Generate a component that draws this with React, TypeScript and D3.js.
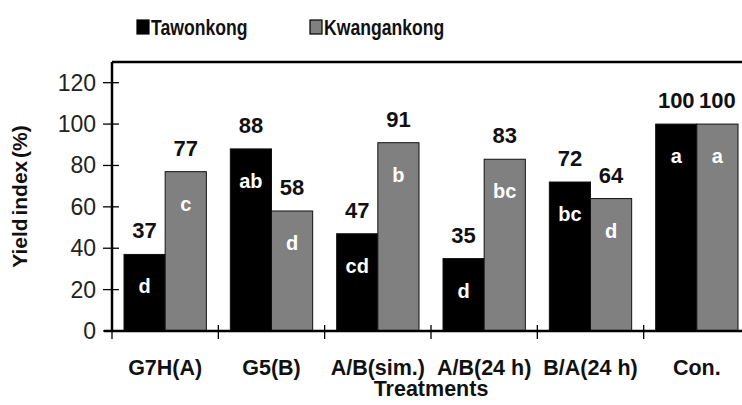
// @ts-nocheck
import React, { useEffect, useRef } from 'react';
import * as d3 from 'd3';

const categories = ['G7H(A)', 'G5(B)', 'A/B(sim.)', 'A/B(24 h)', 'B/A(24 h)', 'Con.'];
const seriesNames = ['Tawonkong', 'Kwangankong'];
const tawonkong = [37, 88, 47, 35, 72, 100];
const kwangankong = [77, 58, 91, 83, 64, 100];
const tawonkongLetters = ['d', 'ab', 'cd', 'd', 'bc', 'a'];
const kwangankongLetters = ['c', 'd', 'b', 'bc', 'd', 'a'];
const yTicks = [0, 20, 40, 60, 80, 100, 120];
const colors = ['#000000', '#808080'];

const App = () => {
  const svgRef = useRef(null);

  useEffect(() => {
    const width = 742;
    const height = 405;
    const left = 112;
    const right = 750;
    const top = 62;
    const bottom = 331;
    const font = 'Arial, "Liberation Sans", sans-serif';

    const svg = d3.select(svgRef.current)
      .attr('width', width)
      .attr('height', height)
      .style('font-family', font);
    svg.selectAll('*').remove();

    svg.append('rect').attr('width', width).attr('height', height).attr('fill', '#fff');

    const x0 = d3.scaleBand().domain(categories).range([left, right]).padding(0);
    const x1 = d3.scaleBand().domain(seriesNames).range([12, x0.bandwidth() - 12]).padding(0);
    const y = d3.scaleLinear().domain([0, 130]).range([bottom, top]);

    const values = [tawonkong, kwangankong];
    const letters = [tawonkongLetters, kwangankongLetters];

    const rows = [];
    categories.forEach((c, i) => {
      seriesNames.forEach((s, j) => {
        rows.push({ c, s, j, v: values[j][i], l: letters[j][i] });
      });
    });

    const g = svg.append('g');

    g.selectAll('rect.bar')
      .data(rows)
      .join('rect')
      .attr('class', 'bar')
      .attr('x', d => x0(d.c) + x1(d.s))
      .attr('y', d => y(d.v))
      .attr('width', x1.bandwidth())
      .attr('height', d => y(0) - y(d.v))
      .attr('fill', d => colors[d.j])
      .attr('stroke', '#111')
      .attr('stroke-width', 1);

    // value labels above bars
    g.selectAll('text.val')
      .data(rows)
      .join('text')
      .attr('class', 'val')
      .attr('x', d => x0(d.c) + x1(d.s) + x1.bandwidth() / 2)
      .attr('y', d => y(d.v) - 16)
      .attr('text-anchor', 'middle')
      .attr('font-size', 22)
      .attr('font-weight', 'bold')
      .attr('fill', '#111')
      .text(d => d.v);

    // significance letters inside bars
    g.selectAll('text.let')
      .data(rows)
      .join('text')
      .attr('class', 'let')
      .attr('x', d => x0(d.c) + x1(d.s) + x1.bandwidth() / 2)
      .attr('y', d => y(d.v) + 32)
      .attr('text-anchor', 'middle')
      .attr('dominant-baseline', 'central')
      .attr('font-size', 20)
      .attr('font-weight', 'bold')
      .attr('fill', '#fff')
      .text(d => d.l);

    // frame
    const frame = svg.append('g').attr('stroke', '#000').attr('fill', 'none');
    frame.append('line').attr('x1', left).attr('x2', right).attr('y1', top).attr('y2', top).attr('stroke-width', 2.5);
    frame.append('line').attr('x1', left).attr('x2', left).attr('y1', top).attr('y2', bottom).attr('stroke-width', 2.5);
    frame.append('line').attr('x1', left - 8).attr('x2', right).attr('y1', bottom).attr('y2', bottom).attr('stroke-width', 2.5);
    frame.append('line').attr('x1', right).attr('x2', right).attr('y1', top).attr('y2', bottom).attr('stroke-width', 2.5);

    // y ticks
    const yt = svg.append('g');
    yt.selectAll('line')
      .data(yTicks)
      .join('line')
      .attr('x1', left - 9)
      .attr('x2', left + 7)
      .attr('y1', d => y(d))
      .attr('y2', d => y(d))
      .attr('stroke', '#000')
      .attr('stroke-width', 1.3);
    yt.selectAll('text')
      .data(yTicks)
      .join('text')
      .attr('x', left - 16)
      .attr('y', d => y(d))
      .attr('text-anchor', 'end')
      .attr('dominant-baseline', 'central')
      .attr('font-size', 23)
      .attr('fill', '#222')
      .text(d => d);

    // x ticks at category boundaries
    const bounds = categories.map(c => x0(c)).concat([right]);
    svg.append('g').selectAll('line')
      .data(bounds)
      .join('line')
      .attr('x1', d => d)
      .attr('x2', d => d)
      .attr('y1', bottom - 6)
      .attr('y2', bottom + 8)
      .attr('stroke', '#000')
      .attr('stroke-width', 1.3);

    svg.append('g').selectAll('text')
      .data(categories)
      .join('text')
      .attr('x', d => x0(d) + x0.bandwidth() / 2)
      .attr('y', 375)
      .attr('text-anchor', 'middle')
      .attr('font-size', 21.5)
      .attr('font-weight', 'bold')
      .attr('fill', '#111')
      .text(d => d);

    svg.append('text')
      .attr('x', (left + right) / 2)
      .attr('y', 396)
      .attr('text-anchor', 'middle')
      .attr('font-size', 21.5)
      .attr('font-weight', 'bold')
      .attr('fill', '#111')
      .text('Treatments');

    svg.append('text')
      .attr('transform', `translate(27,${(top + bottom) / 2}) rotate(-90)`)
      .attr('text-anchor', 'middle')
      .attr('font-size', 21)
      .attr('font-weight', 'bold')
      .attr('word-spacing', -3)
      .attr('fill', '#111')
      .text('Yield index (%)');

    // legend
    const legendX = [137, 310];
    const lg = svg.append('g');
    seriesNames.forEach((s, i) => {
      lg.append('rect')
        .attr('x', legendX[i])
        .attr('y', 20)
        .attr('width', 12)
        .attr('height', 14)
        .attr('fill', colors[i])
        .attr('stroke', '#000')
        .attr('stroke-width', 1.2);
      lg.append('text')
        .attr('transform', `translate(${legendX[i] + 14},35) scale(0.8,1)`)
        .attr('font-size', 22)
        .attr('font-weight', 'bold')
        .attr('fill', '#111')
        .text(s);
    });
  }, []);

  return (
    <div style={{ position: 'absolute', left: 0, top: 0 }}>
      <svg ref={svgRef} style={{ display: 'block' }}></svg>
    </div>
  );
};

export default App;
